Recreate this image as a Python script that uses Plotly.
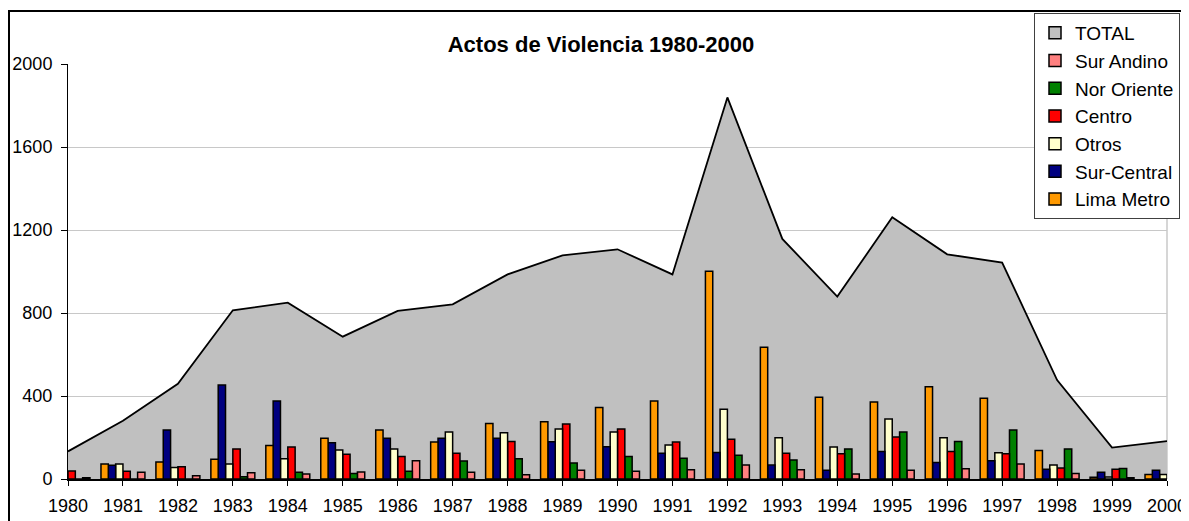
import plotly.graph_objects as go

years = list(range(1980, 2001))
total = [133, 281, 459, 813, 850, 686, 810, 842, 986, 1078, 1107, 986, 1839, 1157, 879, 1261, 1083, 1043, 477, 151, 183]

lima_metro = [0, 72, 82, 95, 162, 196, 236, 178, 268, 276, 344, 376, 1001, 635, 394, 371, 445, 389, 137, 8, 22]
sur_central = [0, 66, 236, 453, 376, 175, 196, 196, 196, 180, 156, 124, 128, 67, 42, 133, 79, 88, 47, 32, 42]
otros = [0, 72, 56, 72, 98, 140, 145, 226, 223, 241, 226, 164, 336, 199, 154, 289, 199, 127, 67, 10, 22]
centro = [38, 37, 59, 145, 154, 119, 108, 124, 181, 265, 241, 178, 191, 124, 122, 202, 132, 122, 53, 47, 0]
nor_oriente = [0, 0, 0, 11, 32, 26, 37, 87, 98, 77, 108, 100, 114, 92, 145, 226, 181, 236, 145, 51, 0]
sur_andino = [6, 32, 16, 30, 24, 34, 88, 32, 21, 42, 37, 45, 67, 45, 24, 42, 50, 72, 26, 6, 0]

series = [
    ("Sur Andino", sur_andino, "#FF8080"),
    ("Nor Oriente", nor_oriente, "#008000"),
    ("Centro", centro, "#FF0000"),
    ("Otros", otros, "#FFFFCC"),
    ("Sur-Central", sur_central, "#000080"),
    ("Lima Metro", lima_metro, "#FF9900"),
]
bar_order = ["Lima Metro", "Sur-Central", "Otros", "Centro", "Nor Oriente", "Sur Andino"]

FONT = "Liberation Sans, Arial, sans-serif"

fig = go.Figure()
fig.add_trace(go.Scatter(
    x=years, y=total, mode="lines", fill="tozeroy",
    fillcolor="#C0C0C0", line=dict(color="black", width=1.8),
    name="TOTAL", showlegend=False, hoverinfo="x+y",
    xaxis="x", yaxis="y"))
# legend entry for TOTAL as a square
fig.add_trace(go.Bar(x=[None], y=[None], name="TOTAL",
                     marker=dict(color="#C0C0C0", line=dict(color="black", width=1.5)),
                     xaxis="x", yaxis="y2"))

n = len(bar_order)
group_w = 0.8
bw = group_w / n
for name, vals, color in series:
    i = bar_order.index(name)
    fig.add_trace(go.Bar(
        x=years, y=vals, name=name, width=bw,
        offset=-group_w / 2 + i * bw,
        marker=dict(color=color, line=dict(color="black", width=1.5)),
        xaxis="x", yaxis="y2"))

# page body has an 8px margin: figure origin sits at screen (8, 8)
OFF = 8
W, H = 1189, 521
plot_left, plot_right, plot_top, plot_bottom = 68, 1167, 64, 479  # screen px
L = plot_left - OFF
R = W - (plot_right - OFF)
T = plot_top - OFF
B = H - (plot_bottom - OFF)
pw = W - L - R
ph = H - T - B

def px_x(px):
    return (px - OFF - L) / pw

def px_y(py):
    return (H - B - (py - OFF)) / ph

fig.update_layout(
    width=W, height=H,
    margin=dict(l=L, r=R, t=T, b=B, autoexpand=False),
    barmode="overlay",
    paper_bgcolor="white", plot_bgcolor="white",
    font=dict(family=FONT, color="black", size=18),
    title=dict(text="<b>Actos de Violencia 1980-2000</b>",
               x=(601 - OFF) / W, xanchor="center", y=1 - (44 - OFF) / H, yanchor="middle",
               font=dict(family=FONT, size=22, color="black")),
    legend=dict(
        x=px_x(1180), xanchor="right", y=px_y(13), yanchor="top",
        bgcolor="white", bordercolor="#404040", borderwidth=1,
        font=dict(family=FONT, size=19, color="black"),
        traceorder="normal", itemwidth=30),
    xaxis=dict(range=[1980, 2000], tickmode="linear", tick0=1980, dtick=1,
               showgrid=False, zeroline=False, showline=True,
               linecolor="black", linewidth=1.5, automargin=False,
               ticks="outside", ticklen=5, tickcolor="black", tickwidth=1,
               tickfont=dict(family=FONT, size=18, color="black"),
               ticklabelstandoff=5),
    yaxis=dict(range=[0, 2000], tickmode="linear", tick0=0, dtick=400,
               showgrid=True, gridcolor="#C8C8C8", gridwidth=1, automargin=False,
               zeroline=False, showline=True, linecolor="black", linewidth=1,
               ticks="outside", ticklen=6, tickcolor="black", tickwidth=1,
               tickfont=dict(family=FONT, size=18, color="black"),
               ticklabelstandoff=5),
    yaxis2=dict(range=[0, 2000], overlaying="y", visible=False,
                showgrid=False, zeroline=False),
    shapes=[
        dict(type="line", xref="paper", yref="paper", x0=1, x1=1, y0=0, y1=1,
             line=dict(color="#C8C8C8", width=1.5), layer="below"),
        dict(type="rect", xref="paper", yref="paper",
             x0=px_x(9), x1=px_x(1260), y0=px_y(600), y1=px_y(11),
             line=dict(color="black", width=2), fillcolor="rgba(0,0,0,0)"),
    ],
)

fig.write_html("out.html")
